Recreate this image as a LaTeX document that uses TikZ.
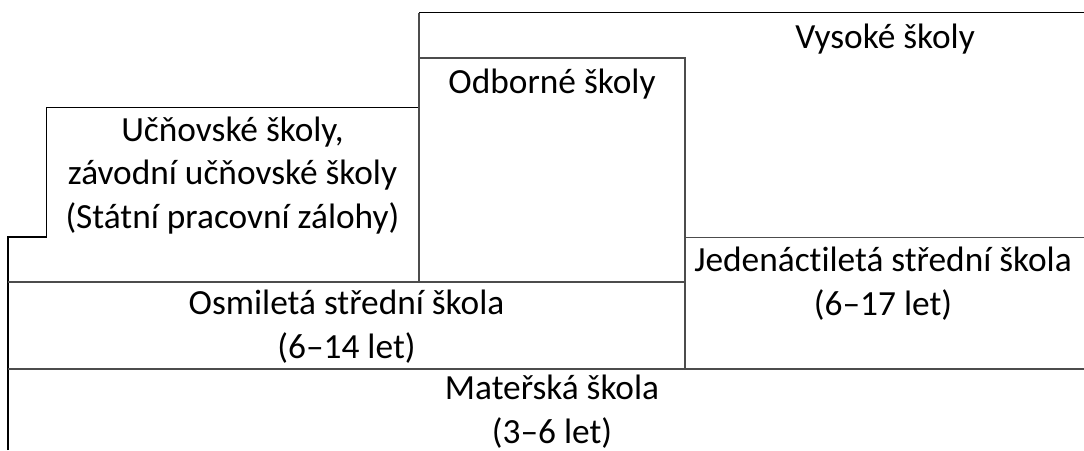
\documentclass[tikz,border=0pt]{standalone}
\usepackage{fontspec}
\setmainfont{Carlito}[Ligatures=NoCommon]
\begin{document}
\begin{tikzpicture}[x=0.75pt,y=-0.75pt,
  outline/.style={line width=1.3pt,black},
  inner/.style={line width=0.8pt,black!70},
  label/.style={anchor=base,align=center,inner sep=0pt,
    font=\fontsize{26.5}{32.6}\selectfont}]
  \useasboundingbox (0,0) rectangle (1084,450);

  % Outer steps: left and top edges
  \draw [outline] (8,450) -- (8,237) -- (46.5,237) -- (46.5,107.5) -- (419,107.5);%
  \draw [outline] (419,12.5) -- (1084,12.5);%

  % Inner lines
  \draw [inner] (419,12.5) -- (419,282);%
  \draw [inner] (419,58) -- (685,58) -- (685,369);%
  \draw [inner] (8,282) -- (685,282);%
  \draw [inner] (685,237.5) -- (1084,237.5);%
  \draw [inner] (8,369) -- (1084,369);%

  % Marking Vysoke skoly (anchor base = last line)
  \node (vysoke) at (885,48) [label] {Vysoké školy};%

  % Marking Odborne skoly
  \node (odborne) at (552,93) [label] {Odborné školy};%

  % Marking Ucnovske skoly
  \node (ucnovske) at (232.5,228) [label] {Učňovské školy,\\závodní učňovské školy\\(Státní pracovní zálohy)};%

  % Marking Osmileta stredni skola
  \node (osmileta) at (346.5,358) [label] {Osmiletá střední škola\\(6–14 let)};%

  % Marking Jedenactileta stredni skola
  \node (jedenactileta) at (883,315) [label] {Jedenáctiletá střední škola\\(6–17 let)};%

  % Marking Materska skola
  \node (materska) at (552,443) [label] {Mateřská škola\\(3–6 let)};%
\end{tikzpicture}
\end{document}
